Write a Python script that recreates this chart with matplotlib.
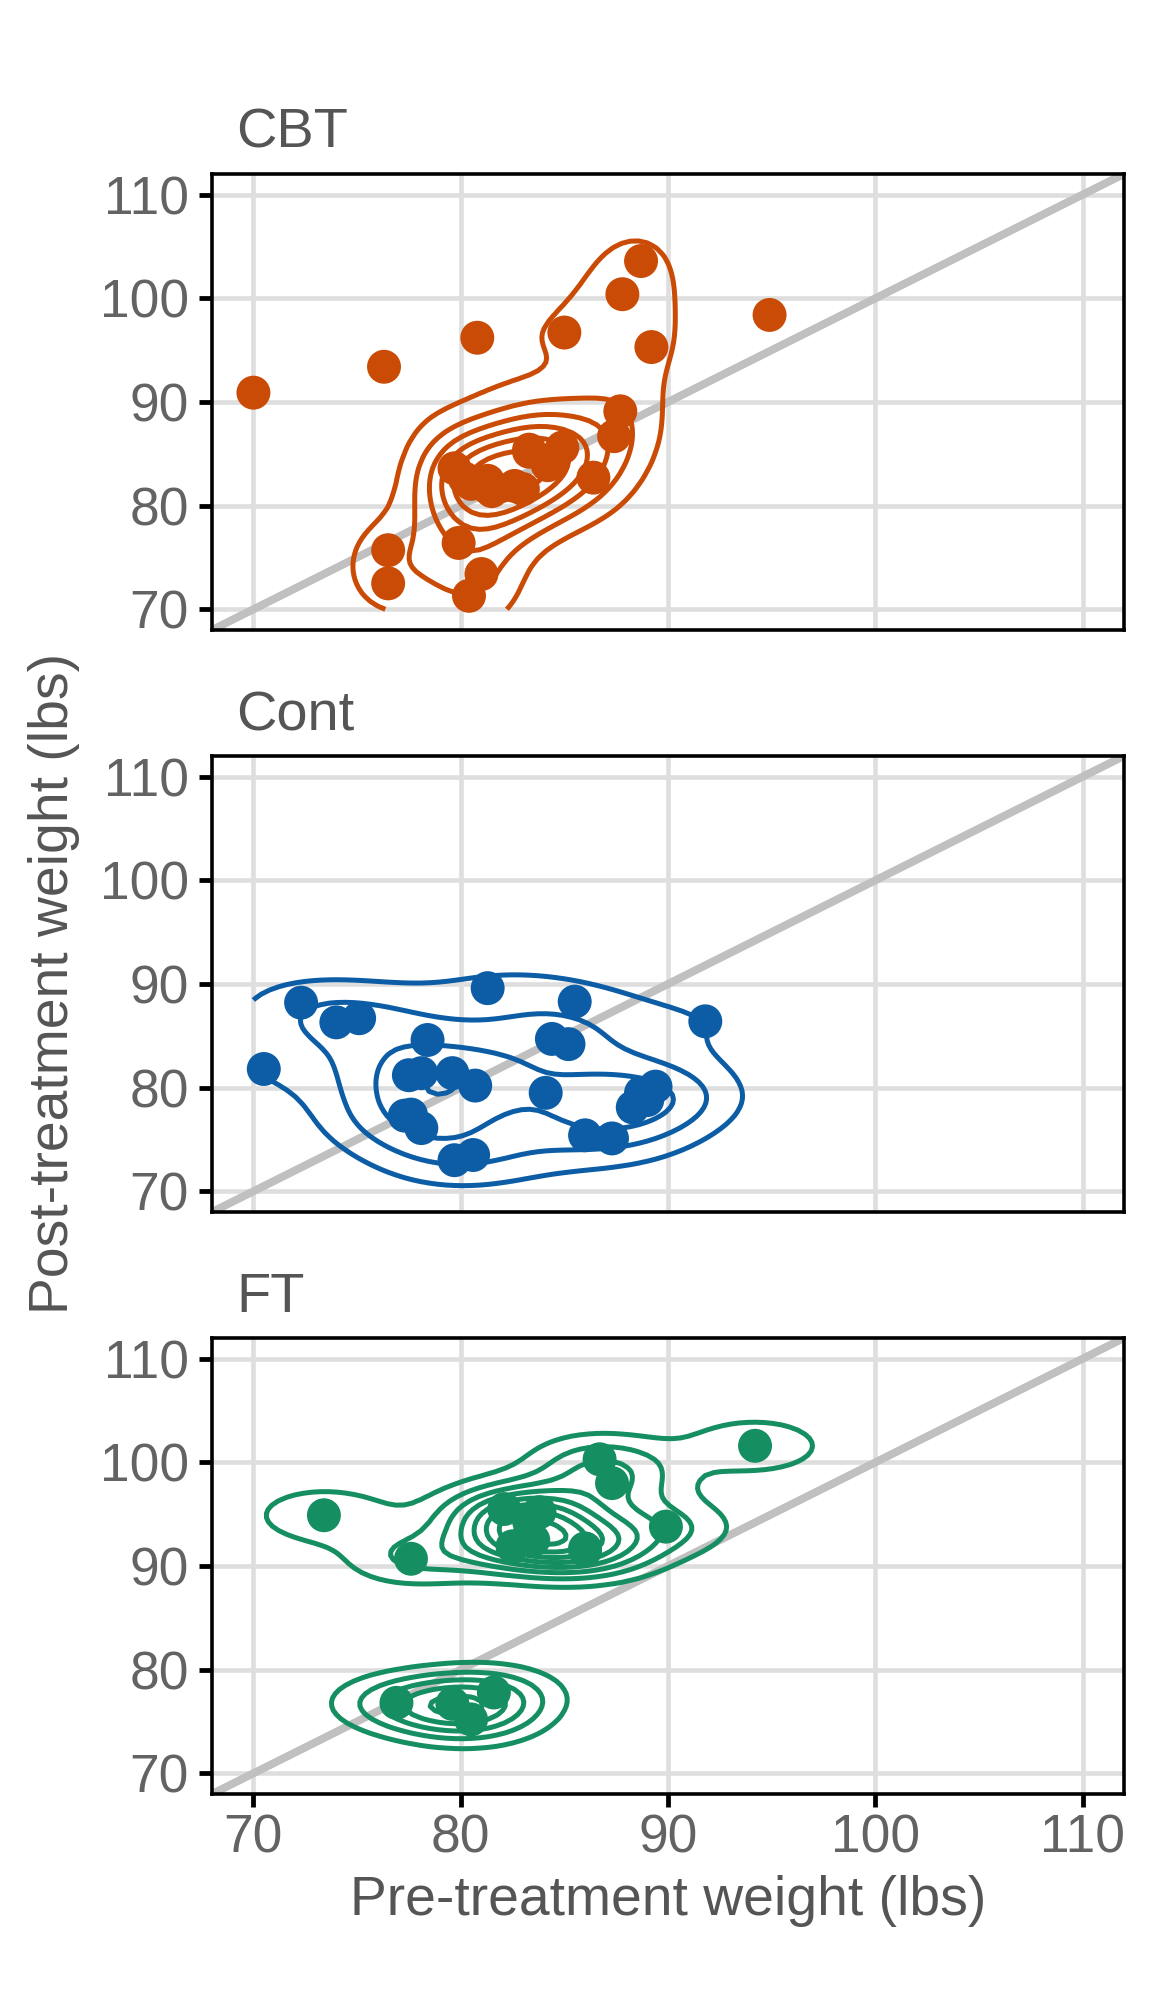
import math
import numpy as np
import matplotlib
matplotlib.use("Agg")
import matplotlib.pyplot as plt

plt.rcParams['font.family'] = ['Liberation Sans', 'DejaVu Sans']

# anorexia data (pre / post treatment weights, lbs)
cbt_pre = [80.5, 84.9, 81.5, 82.6, 79.9, 88.7, 94.9, 76.3, 81.0, 80.5, 85.0, 89.2, 81.3, 76.5, 70.0,
           80.4, 83.3, 83.0, 87.7, 84.2, 86.4, 76.5, 80.2, 87.8, 83.3, 79.7, 84.5, 80.8, 87.4]
cbt_post = [82.2, 85.6, 81.4, 81.9, 76.4, 103.6, 98.4, 93.4, 73.4, 82.1, 96.7, 95.3, 82.4, 72.5, 90.9,
            71.3, 85.4, 81.6, 89.1, 83.9, 82.7, 75.7, 82.6, 100.4, 85.2, 83.6, 84.6, 96.2, 86.7]
cont_pre = [80.7, 89.4, 91.8, 74.0, 78.1, 88.3, 87.3, 75.1, 80.6, 78.4, 77.6, 88.7, 81.3, 78.1, 70.5,
            77.3, 85.2, 86.0, 84.1, 79.7, 85.5, 84.4, 79.6, 77.5, 72.3, 89.0]
cont_post = [80.2, 80.1, 86.4, 86.3, 76.1, 78.1, 75.1, 86.7, 73.5, 84.6, 77.4, 79.5, 89.6, 81.4, 81.8,
             77.3, 84.2, 75.4, 79.5, 73.0, 88.3, 84.7, 81.4, 81.2, 88.2, 78.8]
ft_pre = [83.8, 83.3, 86.0, 82.5, 86.7, 79.6, 76.9, 94.2, 73.4, 80.5, 81.6, 82.1, 77.6, 83.5, 89.9,
          86.0, 87.3]
ft_post = [95.2, 94.3, 91.5, 91.9, 100.3, 76.7, 76.8, 101.6, 94.9, 75.2, 77.8, 95.5, 90.7, 92.5, 93.8,
           91.7, 98.0]

groups = ["CBT", "Cont", "FT"]
colors = ["#C94B05", "#0C5DA5", "#158E61"]
pre = [cbt_pre, cont_pre, ft_pre]
post = [cbt_post, cont_post, ft_post]
lims = (70, 110)


def bw_nrd(x):
    q1, q3 = np.percentile(x, [25, 75])
    return 4 * 1.06 * min(np.std(x, ddof=1), (q3 - q1) / 1.34) * len(x) ** (-0.2)


def kde2d(x, y, n=100):
    x = np.asarray(x)
    y = np.asarray(y)
    gx = np.linspace(lims[0], lims[1], n)
    gy = np.linspace(lims[0], lims[1], n)
    hx = bw_nrd(x) / 4
    hy = bw_nrd(y) / 4
    ax_ = (gx[:, None] - x[None, :]) / hx
    ay_ = (gy[:, None] - y[None, :]) / hy
    phi = lambda u: np.exp(-0.5 * u ** 2) / np.sqrt(2 * np.pi)
    z = phi(ax_) @ phi(ay_).T / (len(x) * hx * hy)
    return gx, gy, z


def pretty(lo, hi, n=10):
    h, h5 = 1.5, 0.5 + 1.5 * 1.5
    cell = (hi - lo) / n
    base = 10 ** math.floor(math.log10(cell))
    unit = base
    if 2 * base - cell < h * (cell - unit):
        unit = 2 * base
        if 5 * base - cell < h5 * (cell - unit):
            unit = 5 * base
            if 10 * base - cell < h * (cell - unit):
                unit = 10 * base
    ns = math.floor(lo / unit + 1e-7)
    nu = math.ceil(hi / unit - 1e-7)
    return np.arange(ns, nu + 1) * unit


dens = [kde2d(x, y) for x, y in zip(pre, post)]
zmin = min(d[2].min() for d in dens)
zmax = max(d[2].max() for d in dens)
levels = pretty(zmin, zmax, 10)

fig = plt.figure(figsize=(4, 7), dpi=288)
left, right = 0.184, 0.9757
tops = [0.9137, 0.625, 0.3363]
height = 0.2262
ticks = [70, 80, 90, 100, 110]

for i, g in enumerate(groups):
    ax = fig.add_axes([left, tops[i] - height, right - left, height])
    ax.set_xlim(68, 112)
    ax.set_ylim(68, 112)
    ax.set_xticks(ticks)
    ax.set_yticks(ticks)
    ax.grid(True, color="#DEDEDE", lw=1.15, zorder=0)
    ax.set_axisbelow(True)
    ax.plot([60, 120], [60, 120], color="#C0C0C0", lw=2.0, zorder=1)
    gx, gy, z = dens[i]
    ax.contour(gx, gy, z.T, levels=levels, colors=colors[i], linewidths=1.25, zorder=2)
    ax.scatter(pre[i], post[i], s=72, color=colors[i], edgecolors="none", zorder=3)
    for sp in ax.spines.values():
        sp.set_color("black")
        sp.set_linewidth(0.9)
    ax.tick_params(axis="both", length=3.3, width=1.2, color="black",
                   labelsize=13.3, labelcolor="#636363", pad=2.5)
    if i < 2:
        ax.tick_params(axis="x", bottom=False, labelbottom=False)
    else:
        ax.tick_params(axis="x", pad=1.5)
    ax.text(0.027, 1.057, g, transform=ax.transAxes, ha="left", va="baseline",
            fontsize=14, color="#555555")
    if i == 2:
        ax.set_xlabel("Pre-treatment weight (lbs)", fontsize=13.8, color="#555555", labelpad=3)

fig.text(0.047, 0.512, "Post-treatment weight (lbs)", rotation=90, ha="center", va="center",
         fontsize=13.8, color="#555555")

fig.savefig("out.png", dpi=288)
